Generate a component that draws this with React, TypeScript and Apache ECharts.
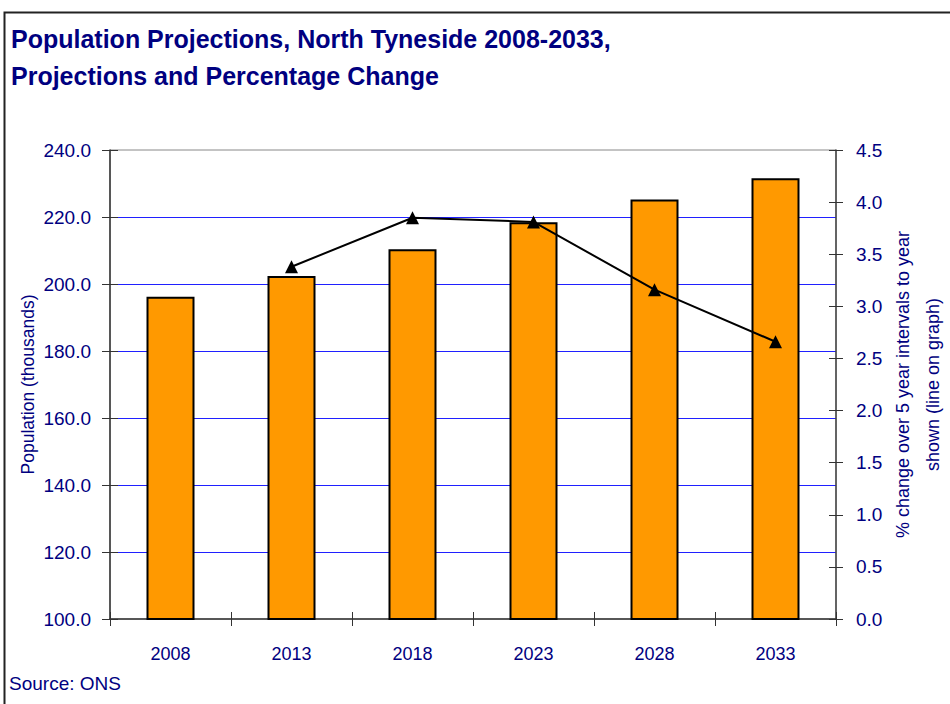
import React, { useEffect, useRef } from "react";
import * as echarts from "echarts";

const categories = ["2008", "2013", "2018", "2023", "2028", "2033"];
const populationValues = [196.2, 202.4, 210.4, 218.4, 225.2, 231.6];
const percentChangeValues = [null, 3.38, 3.85, 3.81, 3.16, 2.66];

const titleText = "Population Projections, North Tyneside 2008-2033,\nProjections and Percentage Change";
const leftAxisName = "Population (thousands)";
const rightAxisName = "% change over 5 year intervals to year\nshown (line on graph)";
const sourceText = "Source: ONS";

const FONT = "'Liberation Sans', Arial, Helvetica, sans-serif";
const NAVY = "#000080";

export default function App() {
  const ref = useRef<HTMLDivElement>(null);

  useEffect(() => {
    if (!ref.current) return;
    const chart = echarts.init(ref.current, null, { renderer: "svg" });
    const grid = {
      left: 110,
      right: 114,
      top: 150,
      bottom: 85,
      containLabel: false,
      outerBoundsMode: "none",
      show: true,
      borderColor: "#888",
      borderWidth: 1,
      backgroundColor: "transparent",
    };

    chart.setOption({
      animation: false,
      backgroundColor: "#fff",
      textStyle: { fontFamily: FONT },
      title: {
        text: titleText,
        left: 11,
        top: 20,
        padding: 0,
        textStyle: { fontSize: 25, fontWeight: "bold", lineHeight: 37, color: NAVY, fontFamily: FONT },
      },
      grid,
      xAxis: [
        {
          type: "category",
          data: categories,
          position: "bottom",
          axisLine: { lineStyle: { color: "#333", width: 1.5 } },
          axisTick: { show: true, length: 7, lineStyle: { color: "#333" } },
          axisLabel: { color: NAVY, fontSize: 18, margin: 26, fontFamily: FONT },
        },
        {
          type: "category",
          data: categories,
          position: "bottom",
          axisLine: { show: false },
          axisTick: { show: true, inside: true, length: 7, lineStyle: { color: "#333" } },
          axisLabel: { show: false },
        },
      ],
      yAxis: [
        {
          type: "value",
          min: 100,
          max: 240,
          interval: 20,
          position: "left",
          name: leftAxisName,
          nameLocation: "middle",
          nameRotate: 90,
          nameGap: 73,
          nameMoveOverlap: false,
          nameTextStyle: { color: NAVY, fontSize: 17.5, fontFamily: FONT },
          axisLine: { show: true, lineStyle: { color: "#333", width: 1.5 } },
          axisTick: { show: true, length: 8, lineStyle: { color: "#333" } },
          axisLabel: { color: NAVY, fontSize: 19, margin: 19, fontFamily: FONT, formatter: (v: number) => v.toFixed(1) },
          splitLine: { show: true, showMinLine: false, showMaxLine: false, lineStyle: { color: "#2020FF", width: 1 } },
        },
        {
          type: "value",
          min: 0,
          max: 4.5,
          interval: 0.5,
          position: "right",
          name: rightAxisName,
          nameLocation: "middle",
          nameRotate: 90,
          nameGap: 52,
          nameMoveOverlap: false,
          nameTextStyle: { color: NAVY, fontSize: 18, lineHeight: 30, fontFamily: FONT, align: "center" },
          axisLine: { show: true, lineStyle: { color: "#444", width: 1.5 } },
          axisTick: { show: true, length: 7, lineStyle: { color: "#333" } },
          axisLabel: { color: NAVY, fontSize: 19, margin: 20, fontFamily: FONT, formatter: (v: number) => v.toFixed(1) },
          splitLine: { show: false },
        },
        {
          type: "value",
          min: 100,
          max: 240,
          interval: 20,
          position: "left",
          axisLine: { show: false },
          axisTick: { show: true, inside: true, length: 8, lineStyle: { color: "#333" } },
          axisLabel: { show: false },
          splitLine: { show: false },
        },
        {
          type: "value",
          min: 0,
          max: 4.5,
          interval: 0.5,
          position: "right",
          axisLine: { show: false },
          axisTick: { show: true, inside: true, length: 7, lineStyle: { color: "#333" } },
          axisLabel: { show: false },
          splitLine: { show: false },
        },
      ],
      series: [
        {
          type: "bar",
          name: "Population",
          xAxisIndex: 0,
          yAxisIndex: 0,
          data: populationValues,
          barWidth: 48,
          itemStyle: { color: "#FF9900", borderColor: "#000", borderWidth: 2 },
          z: 3,
        },
        {
          type: "line",
          name: "% change",
          xAxisIndex: 0,
          yAxisIndex: 1,
          data: percentChangeValues,
          symbol: "triangle",
          symbolSize: 13,
          lineStyle: { color: "#000", width: 2 },
          itemStyle: { color: "#000" },
          z: 5,
        },
      ],
      graphic: [
        {
          type: "rect",
          shape: { x: 4.5, y: 12.5, width: 1000, height: 800 },
          style: { fill: "none", stroke: "#222", lineWidth: 2 },
          silent: true,
          z: 100,
        },
        {
          type: "text",
          left: 9,
          top: 674,
          style: { text: sourceText, fill: NAVY, fontSize: 19, fontFamily: FONT },
        },
      ],
    });
    return () => chart.dispose();
  }, []);

  return <div ref={ref} style={{ position: "fixed", left: 0, top: 0, width: 950, height: 704 }} />;
}
